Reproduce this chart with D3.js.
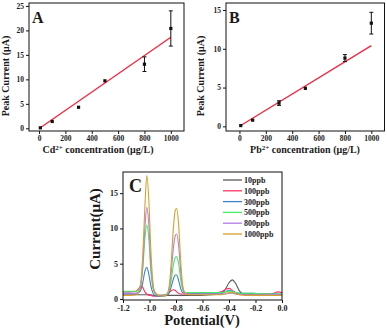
<!DOCTYPE html>
<html>
<head>
<meta charset="utf-8">
<script src="https://cdn.jsdelivr.net/npm/d3@7"></script>
<style>
  body { margin: 0; background: #fff; }
  svg text { font-family: "Liberation Serif", "Times New Roman", serif; font-weight: bold; fill: #1a1a1a; }
</style>
</head>
<body>
<svg id="chart" width="387" height="331"></svg>
<script>
// ---- panel A : Cd2+ ----
var concA = [10, 100, 300, 500, 800, 1000];
var currentA = [0.1, 1.4, 4.3, 9.7, 13.1, 20.4];
var errA = [0.1, 0.1, 0.15, 0.2, 1.5, 3.6];
var fitA = [[10, 0.1], [1000, 18.6]];

// ---- panel B : Pb2+ ----
var concB = [10, 100, 300, 500, 800, 1000];
var currentB = [0.1, 0.8, 3.0, 4.9, 8.8, 13.3];
var errB = [0.05, 0.1, 0.3, 0.2, 0.45, 1.4];
var fitB = [[10, 0.1], [1000, 10.4]];

// ---- panel C : stripping curves ----
var potentials = [-1.20, -1.15, -1.10, -1.08, -1.065, -1.05, -1.035, -1.02, -1.005, -0.99, -0.975, -0.96, -0.93, -0.90,
  -0.87, -0.85, -0.835, -0.82, -0.805, -0.795, -0.78, -0.765, -0.75, -0.73, -0.70, -0.62, -0.52, -0.46, -0.43, -0.40,
  -0.375, -0.35, -0.32, -0.28, -0.22, -0.15, -0.08, -0.03, 0.00];
var seriesNames = ["10ppb", "100ppb", "300ppb", "500ppb", "800ppb", "1000ppb"];
var seriesColors = ["#5a5a5a", "#ff3366", "#3b82c9", "#45ec63", "#b27ce9", "#d6a12a"];
var ppb10 = [0.6, 0.6, 0.6, 0.6, 0.6, 0.6, 0.6, 0.6, 0.6, 0.6, 0.5, 0.5, 0.5, 0.5,
  0.5, 0.5, 0.5, 0.5, 0.5, 0.5, 0.5, 0.5, 0.5, 0.5, 0.5, 0.5, 0.6, 0.7, 1.3, 2.3,
  2.7, 2.2, 1.1, 0.6, 0.6, 0.6, 0.6, 0.6, 0.6];
var ppb100 = [1.0, 1.0, 1.1, 1.5, 1.9, 1.6, 1.0, 0.7, 0.5, 0.5, 0.4, 0.4, 0.4, 0.5,
  0.6, 0.9, 1.2, 1.3, 1.2, 1.0, 0.8, 0.7, 0.7, 0.7, 0.7, 0.8, 0.8, 1.0, 1.3, 1.5,
  1.2, 0.9, 0.7, 0.7, 0.7, 0.7, 0.7, 1.0, 0.9];
var ppb300 = [0.8, 0.8, 0.8, 0.9, 1.3, 2.4, 3.9, 4.5, 3.5, 1.9, 0.9, 0.5, 0.4, 0.4,
  0.5, 0.9, 1.8, 2.8, 3.4, 3.4, 2.6, 1.5, 0.9, 0.8, 0.8, 0.8, 0.8, 0.8, 1.0, 1.2,
  1.1, 0.9, 0.8, 0.8, 0.8, 0.7, 0.7, 0.7, 0.7];
var ppb500 = [1.1, 1.1, 1.1, 1.3, 2.2, 4.5, 8.5, 10.5, 8.5, 4.0, 1.6, 0.8, 0.5, 0.5,
  0.7, 1.3, 2.8, 4.8, 5.9, 6.0, 5.0, 2.8, 1.3, 0.9, 0.9, 0.9, 0.9, 0.9, 1.0, 1.1,
  1.1, 0.9, 0.8, 0.8, 0.8, 0.7, 0.7, 0.7, 0.7];
var ppb800 = [0.7, 0.7, 0.8, 1.0, 2.0, 5.0, 10.0, 13.0, 10.5, 5.0, 2.0, 0.9, 0.5, 0.5,
  0.6, 1.6, 4.0, 7.2, 9.0, 9.2, 7.5, 4.0, 1.6, 0.8, 0.7, 0.7, 0.7, 0.7, 0.7, 0.8,
  0.8, 0.7, 0.6, 0.6, 0.6, 0.6, 0.6, 0.6, 0.6];
var ppb1000 = [0.5, 0.5, 0.6, 1.0, 2.5, 6.5, 13.0, 17.5, 14.0, 7.0, 2.5, 1.0, 0.5, 0.4,
  0.6, 2.0, 5.5, 10.0, 12.6, 12.8, 10.5, 5.5, 2.0, 0.8, 0.6, 0.6, 0.6, 0.6, 0.7, 0.9,
  0.9, 0.7, 0.6, 0.5, 0.5, 0.5, 0.5, 0.5, 0.5];
var seriesValues = [ppb10, ppb100, ppb300, ppb500, ppb800, ppb1000];

var concTicks = [0, 200, 400, 600, 800, 1000];
var ticksA = [0, 5, 10, 15, 20, 25];
var ticksB = [0, 5, 10, 15];
var potTicks = [-1.2, -1.0, -0.8, -0.6, -0.4, -0.2, 0.0];
var ticksC = [0, 5, 10, 15];

var svg = d3.select("#chart");

function frame(g, x, y) {
    var xr = x.range(), yr = y.range();
    g.append("rect")
        .attr("x", xr[0]).attr("y", yr[1])
        .attr("width", xr[1] - xr[0]).attr("height", yr[0] - yr[1])
        .attr("fill", "none").attr("stroke", "#111").attr("stroke-width", 1);
}

function axes(g, x, y, xt, yt, xfmt, fs) {
    var xAxis = d3.axisBottom(x).tickValues(xt).tickSize(3).tickPadding(2).tickFormat(xfmt);
    var yAxis = d3.axisLeft(y).tickValues(yt).tickSize(3).tickPadding(2);
    var gx = g.append("g").attr("transform", `translate(0, ${y.range()[0]})`).call(xAxis);
    var gy = g.append("g").attr("transform", `translate(${x.range()[0]}, 0)`).call(yAxis);
    [gx, gy].forEach(function (a) {
        a.select(".domain").remove();
        a.selectAll("line").attr("stroke", "#111");
        a.selectAll("text").style("font-size", fs + "px").attr("fill", "#1a1a1a");
    });
}

function calibration(opts) {
    var g = svg.append("g");
    var x = d3.scaleLinear().domain(opts.xdom).range(opts.xr);
    var y = d3.scaleLinear().domain(opts.ydom).range([131, 3]);

    axes(g, x, y, concTicks, opts.yticks, d3.format("d"), 7.5);

    var line = d3.line().x(d => x(d[0])).y(d => y(d[1]));
    g.append("path")
        .attr("d", line(opts.fit))
        .attr("fill", "none").attr("stroke", "#f5253f").attr("stroke-width", 1.3);

    var pts = opts.conc.map((c, i) => ({ c: c, v: opts.cur[i], e: opts.err[i] }));
    var eb = g.selectAll(".eb").data(pts).enter().append("g").attr("stroke", "#111").attr("stroke-width", 1);
    eb.append("line")
        .attr("x1", d => x(d.c)).attr("x2", d => x(d.c))
        .attr("y1", d => y(d.v - d.e)).attr("y2", d => y(d.v + d.e));
    eb.filter(d => d.e > 0.25).append("line")
        .attr("x1", d => x(d.c) - 2).attr("x2", d => x(d.c) + 2)
        .attr("y1", d => y(d.v + d.e)).attr("y2", d => y(d.v + d.e));
    eb.filter(d => d.e > 0.25).append("line")
        .attr("x1", d => x(d.c) - 2).attr("x2", d => x(d.c) + 2)
        .attr("y1", d => y(d.v - d.e)).attr("y2", d => y(d.v - d.e));
    g.selectAll(".pt").data(pts).enter().append("rect")
        .attr("x", d => x(d.c) - 1.6).attr("y", d => y(d.v) - 1.6)
        .attr("width", 3.2).attr("height", 3.2).attr("fill", "#111");

    frame(g, x, y);

    g.append("text").attr("x", opts.xr[0] + 3).attr("y", 23)
        .style("font-size", "16px").text(opts.letter);

    var yl = g.append("text")
        .attr("transform", `translate(${opts.ylabX}, 76) rotate(-90)`)
        .attr("text-anchor", "middle").style("font-size", "10px");
    yl.text("Peak Current (\u03bcA)");

    var xl = g.append("text").attr("x", opts.xlabX).attr("y", 153)
        .attr("text-anchor", "middle").style("font-size", "10px");
    xl.append("tspan").text(opts.ion);
    xl.append("tspan").attr("dy", -3.5).style("font-size", "7px").text("2+");
    xl.append("tspan").attr("dy", 3.5).text(" concentration (\u03bcg/L)");
}

calibration({
    letter: "A", ion: "Cd", conc: concA, cur: currentA, err: errA, fit: fitA,
    xdom: [-76, 1100], xr: [29, 184], ydom: [-0.55, 25.6], yticks: ticksA,
    ylabX: 9, xlabX: 98
});
calibration({
    letter: "B", ion: "Pb", conc: concB, cur: currentB, err: errB, fit: fitB,
    xdom: [-102, 1100], xr: [226, 384.5], ydom: [-0.6, 15.9], yticks: ticksB,
    ylabX: 204, xlabX: 305
});

// ---- panel C ----
(function () {
    var g = svg.append("g");
    var x = d3.scaleLinear().domain([-1.2, 0]).range([123, 282]);
    var y = d3.scaleLinear().domain([-0.15, 18]).range([300, 172]);

    axes(g, x, y, potTicks, ticksC, d3.format(".1f"), 8);
    g.selectAll("text").filter(function () { return this.textContent.indexOf("\u2212") >= 0; })
        .text(function () { return this.textContent.replace("\u2212", "-"); });

    var line = d3.line()
        .x((d, i) => x(potentials[i]))
        .y(d => y(d))
        .curve(d3.curveMonotoneX);
    seriesValues.forEach(function (vals, k) {
        g.append("path")
            .attr("d", line(vals))
            .attr("fill", "none").attr("stroke", seriesColors[k]).attr("stroke-width", 1.1);
    });

    frame(g, x, y);

    g.append("text").attr("x", 129).attr("y", 192).style("font-size", "18px").text("C");

    var leg = g.selectAll(".leg").data(seriesNames).enter().append("g")
        .attr("transform", (d, i) => `translate(223, ${180 + i * 10.8})`);
    leg.append("line").attr("x1", 0).attr("x2", 19).attr("y1", 0).attr("y2", 0)
        .attr("stroke", (d, i) => seriesColors[i]).attr("stroke-width", 1.3);
    leg.append("text").attr("x", 21).attr("y", 3).style("font-size", "8px").text(d => d);

    g.append("text")
        .attr("transform", "translate(100, 229) rotate(-90)")
        .attr("text-anchor", "middle").style("font-size", "15px").text("Current(\u03bcA)");
    g.append("text").attr("x", 202).attr("y", 325)
        .attr("text-anchor", "middle").style("font-size", "14.5px").text("Potential(V)");
})();
</script>
</body>
</html>
